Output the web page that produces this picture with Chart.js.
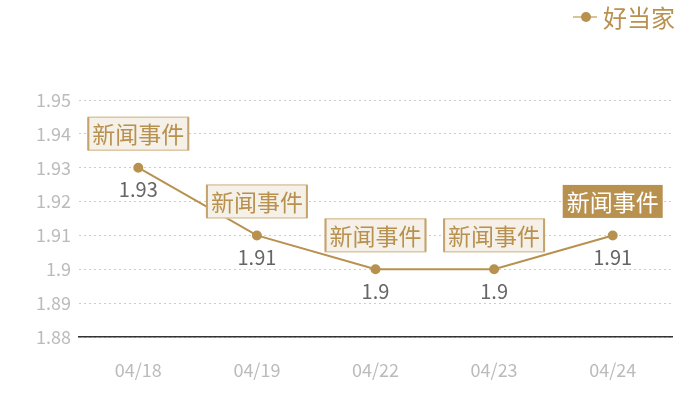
<!DOCTYPE html>
<html>
<head>
    <title>好当家</title>
    <script src="https://cdn.jsdelivr.net/npm/chart.js"></script>
    <style>
        body { margin: 0; padding: 0; background: white; }
        .chart-wrap { width: 700px; height: 400px; position: relative; }
    </style>
</head>
<body>
    <div class="chart-wrap">
        <canvas id="priceChart" width="700" height="400"></canvas>
    </div>

    <script>
        const dates = ['04/18', '04/19', '04/22', '04/23', '04/24'];
        const prices = [1.93, 1.91, 1.9, 1.9, 1.91];
        const seriesName = '好当家';
        const eventText = '新闻事件';
        const highlighted = [false, false, false, false, true];

        const gold = '#b8914f';
        const font = '"Noto Sans CJK SC", "Noto Sans", sans-serif';

        // event boxes above the points, value labels below
        const markers = {
            id: 'markers',
            afterDatasetsDraw(chart) {
                const ctx = chart.ctx;
                const meta = chart.getDatasetMeta(0);
                ctx.save();
                meta.data.forEach((pt, i) => {
                    ctx.font = '20px ' + font;
                    ctx.fillStyle = '#666';
                    ctx.textAlign = 'center';
                    ctx.textBaseline = 'middle';
                    ctx.fillText(String(prices[i]), pt.x, pt.y + 22);

                    const w = 100, h = 33;
                    const bx = pt.x - w / 2, by = pt.y - 34 - h / 2;
                    if (highlighted[i]) {
                        ctx.fillStyle = gold;
                        ctx.fillRect(bx, by, w, h);
                        ctx.fillStyle = '#fff';
                    } else {
                        ctx.fillStyle = '#f5f0e8';
                        ctx.fillRect(bx, by, w, h);
                        ctx.strokeStyle = '#dcc8a6';
                        ctx.lineWidth = 1.5;
                        ctx.strokeRect(bx, by, w, h);
                        ctx.strokeStyle = '#c4a36c';
                        ctx.lineWidth = 2;
                        ctx.beginPath();
                        ctx.moveTo(bx, by); ctx.lineTo(bx, by + h);
                        ctx.moveTo(bx + w, by); ctx.lineTo(bx + w, by + h);
                        ctx.stroke();
                        ctx.fillStyle = gold;
                    }
                    ctx.font = '23px ' + font;
                    ctx.fillText(eventText, pt.x, by + h / 2 + 1);
                });

                // legend, top right
                const lx = 573, ly = 17;
                ctx.strokeStyle = '#d9c29b';
                ctx.lineWidth = 2;
                ctx.beginPath();
                ctx.moveTo(lx, ly); ctx.lineTo(lx + 24, ly);
                ctx.stroke();
                ctx.fillStyle = gold;
                ctx.beginPath();
                ctx.arc(lx + 13, ly, 5, 0, Math.PI * 2);
                ctx.fill();
                ctx.font = '24px ' + font;
                ctx.textAlign = 'left';
                ctx.fillText(seriesName, lx + 30, ly + 1);
                ctx.restore();
            }
        };

        new Chart(document.getElementById('priceChart'), {
            type: 'line',
            data: {
                labels: dates,
                datasets: [{
                    label: seriesName,
                    data: prices,
                    borderColor: gold,
                    backgroundColor: gold,
                    borderWidth: 2,
                    pointRadius: 4,
                    pointHoverRadius: 4,
                    tension: 0
                }]
            },
            options: {
                responsive: false,
                animation: false,
                devicePixelRatio: 1,
                layout: { padding: { top: 100, right: 28, left: 0, bottom: 0 } },
                plugins: {
                    legend: { display: false },
                    tooltip: { enabled: false }
                },
                scales: {
                    x: {
                        offset: true,
                        grid: { display: false, drawTicks: false },
                        border: { color: '#333', width: 1.5 },
                        ticks: { color: '#bbb', font: { size: 18, family: font }, padding: 22 },
                        afterFit(axis) { axis.height = 63; }
                    },
                    y: {
                        min: 1.88,
                        max: 1.95,
                        ticks: {
                            stepSize: 0.01,
                            color: '#bbb',
                            font: { size: 18, family: font },
                            padding: 8,
                            callback: v => String(+v.toFixed(2))
                        },
                        grid: { color: '#ccc', drawTicks: false },
                        border: { display: false, dash: [2, 3] },
                        afterFit(axis) { axis.width = 79; }
                    }
                }
            },
            plugins: [markers]
        });
    </script>
</body>
</html>
